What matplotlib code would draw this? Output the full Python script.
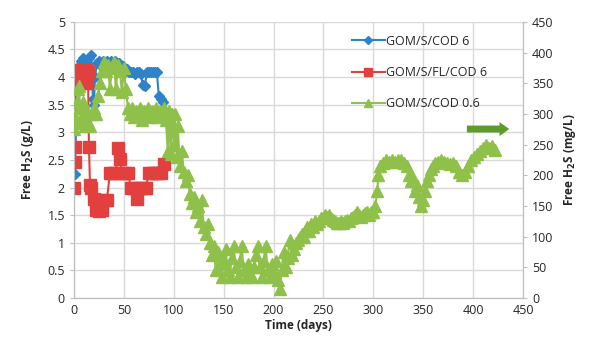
import matplotlib
matplotlib.use("Agg")
import matplotlib.pyplot as plt
from matplotlib.lines import Line2D

# ---------------- data ----------------
blue_days = [1, 3, 5, 7, 9, 11, 13, 15, 17, 19, 20, 21, 23, 25, 27, 29, 31, 33, 35,
             37, 39, 41, 43, 45, 47, 49, 51, 53, 55, 57, 59, 61, 63, 65, 67, 69, 71, 73,
             75, 77, 79, 81, 83, 85, 87, 89]
blue_vals = [2.25, 4.0, 4.2, 4.3, 4.35, 4.3, 4.25, 4.35, 4.4, 3.6, 3.5, 4.0, 4.25,
             4.3, 4.2, 4.3, 4.25, 4.3, 4.2, 4.3, 4.25, 4.3, 4.2, 4.25, 4.15, 4.2, 4.1,
             4.15, 4.1, 4.1, 4.1, 4.05, 4.1, 4.1, 4.05, 3.85, 3.83, 4.1, 4.1, 4.1, 4.1,
             4.1, 4.1, 3.65, 3.6, 3.55]

red_days = [0, 0.5, 1, 1.5, 2, 3, 4, 5, 6, 7, 8, 9, 10, 11, 12, 13, 14, 15, 16, 17,
            20, 22, 25, 28, 30, 33, 36, 39, 42, 44, 46, 48, 51, 54, 57, 60, 63, 66, 69,
            72, 75, 78, 81, 84, 87, 90]
red_vals = [2.0, 2.47, 2.74, 3.45, 4.1, 3.95, 4.12, 3.9, 4.1, 3.95, 4.12, 3.9, 4.1,
            3.95, 4.12, 3.9, 4.1, 2.74, 2.05, 2.0, 1.8, 1.6, 1.58, 1.6, 1.78, 1.78,
            2.27, 2.27, 2.27, 2.72, 2.52, 2.27, 2.27, 2.27, 2.0, 2.0, 1.8, 2.0, 2.0,
            2.0, 2.26, 2.26, 2.26, 2.26, 2.26, 2.42]

green_days = [0, 1, 2, 3, 4, 5, 6, 7, 8, 9, 10, 11, 12, 14, 16, 18, 20, 22, 24, 26, 28,
              30, 32, 34, 36, 38, 40, 42, 44, 46, 48, 50, 52, 54, 56, 58, 60, 62, 64,
              66, 68, 70, 72, 74, 76, 78, 80, 82, 84, 86, 88, 90, 92, 94, 95, 97, 98,
              100, 101, 103, 104, 106, 108, 110, 112, 114, 116, 118, 120, 122, 124,
              126, 128, 130, 132, 134, 136, 138, 140, 142, 144, 146, 148, 150, 152,
              154, 156, 158, 160, 162, 164, 166, 168, 170, 172, 174, 176, 178, 180,
              182, 184, 186, 188, 190, 192, 194, 196, 198, 200, 202, 204, 206, 208,
              210, 212, 214, 216, 218, 220, 222, 224, 226, 228, 230, 232, 234, 236,
              238, 240, 242, 244, 246, 248, 250, 252, 254, 256, 258, 260, 262, 264,
              266, 268, 270, 272, 274, 276, 278, 280, 282, 284, 286, 288, 290, 292,
              294, 296, 298, 300, 302, 304, 305, 307, 310, 313, 316, 319, 322, 325,
              328, 331, 334, 336, 338, 340, 342, 344, 346, 348, 350, 352, 354, 356,
              358, 360, 362, 365, 368, 371, 374, 377, 380, 383, 386, 389, 392, 395,
              398, 401, 404, 407, 410, 413, 416, 419, 422]
green_vals = [275, 295, 285, 320, 340, 345, 310, 285, 295, 320, 310, 280, 290, 285, 280,
              300, 310, 300, 330, 350, 370, 385, 370, 380, 340, 375, 385, 340, 380, 370,
              335, 375, 340, 310, 300, 310, 295, 305, 300, 310, 290, 305, 300, 310, 295,
              305, 300, 310, 295, 305, 300, 310, 290, 240, 305, 235, 300, 250, 300, 230,
              280, 215, 240, 205, 190, 200, 170, 155, 165, 140, 150, 125, 160, 115, 105,
              120, 90, 70, 85, 45, 75, 55, 35, 60, 80, 45, 35, 65, 85, 50, 35, 60, 85,
              45, 35, 55, 40, 35, 50, 70, 85, 50, 35, 60, 85, 45, 35, 55, 40, 60, 30, 15,
              45, 75, 50, 65, 95, 70, 80, 90, 95, 100, 105, 100, 110, 115, 110, 120, 115,
              125, 120, 125, 130, 130, 135, 132, 135, 130, 128, 125, 122, 122, 125, 122,
              125, 128, 125, 130, 132, 135, 140, 135, 132, 135, 138, 140, 135, 140, 140,
              150, 175, 200, 215, 220, 225, 222, 225, 222, 225, 225, 220, 215, 200, 190,
              195, 175, 185, 165, 150, 160, 175, 190, 200, 210, 215, 220, 222, 225, 222,
              220, 218, 220, 215, 205, 200, 205, 215, 225, 230, 235, 240, 245, 250, 245,
              248, 242]

labels = ["GOM/S/COD 6", "GOM/S/FL/COD 6", "GOM/S/COD 0.6"]
x_ticks = list(range(0, 451, 50))
left_ticks = [0, 0.5, 1, 1.5, 2, 2.5, 3, 3.5, 4, 4.5, 5]
right_ticks = list(range(0, 451, 50))

# ---------------- style ----------------
c_blue = "#2f82c8"
c_red = "#e2403f"
c_green = "#8fc04a"
c_arrow = "#5e9a2c"
grid_c = "#d9d9d9"
spine_c = "#bfbfbf"
txt_c = "#262626"

plt.rcParams["font.family"] = ["Open Sans", "DejaVu Sans"]

fig = plt.figure(figsize=(5.94, 3.47), dpi=100)
ax = fig.add_axes([0.1246, 0.141, 0.7559, 0.796])
ax2 = ax.twinx()

ax.plot(blue_days, blue_vals, color=c_blue, lw=1.5, marker="D", ms=5.5,
        mec=c_blue, mfc=c_blue, label=labels[0], zorder=2)
ax.plot(red_days, red_vals, color=c_red, lw=1.5, marker="s", ms=8,
        mec=c_red, mfc=c_red, label=labels[1], zorder=3)
ax2.plot(green_days, green_vals, color=c_green, lw=1.5, marker="^", ms=8.5,
         mec=c_green, mfc=c_green, label=labels[2], zorder=3)

ax.set_xlim(0, 450)
ax.set_ylim(0, 5)
ax2.set_ylim(0, 450)
ax.set_xticks(x_ticks)
ax.set_yticks(left_ticks)
ax.set_yticklabels([("%g" % v) for v in left_ticks])
ax2.set_yticks(right_ticks)

ax.grid(True, color=grid_c, lw=1.0)
ax.set_axisbelow(True)

for a in (ax, ax2):
    for s in a.spines.values():
        s.set_color(spine_c)
    a.spines["top"].set_visible(False)
    a.tick_params(colors=txt_c, labelsize=9, length=3, color=spine_c)
ax.tick_params(axis="x", length=0, pad=4)

ax.set_xlabel("Time (days)", fontsize=8.5, fontweight="bold", color=txt_c, labelpad=2)
ax.set_ylabel("Free H$_\\mathbf{2}$S (g/L)", fontsize=8.5, fontweight="bold", color=txt_c, labelpad=8)
ax2.set_ylabel("Free H$_\\mathbf{2}$S (mg/L)", fontsize=8.5, fontweight="bold", color=txt_c,
               rotation=90, labelpad=6)

# arrow pointing to right axis
ax.annotate("", xy=(439, 3.06), xytext=(391, 3.06),
            arrowprops=dict(arrowstyle="simple,head_length=0.7,head_width=1.0,tail_width=0.5",
                            color=c_arrow, lw=0))

handles = [
    Line2D([], [], color=c_blue, lw=1.5, marker="D", ms=4, mfc=c_blue, mec=c_blue),
    Line2D([], [], color=c_red, lw=1.5, marker="s", ms=6, mfc=c_red, mec=c_red),
    Line2D([], [], color=c_green, lw=1.5, marker="^", ms=6, mfc=c_green, mec=c_green),
]
leg = ax2.legend(handles, labels, loc="upper left", bbox_to_anchor=(0.6, 0.985),
                 frameon=False, fontsize=9, labelspacing=1.45, handlelength=2.6,
                 handletextpad=0.1, borderaxespad=0.3)
for t in leg.get_texts():
    t.set_color(txt_c)

fig.savefig("out.png", dpi=100)
